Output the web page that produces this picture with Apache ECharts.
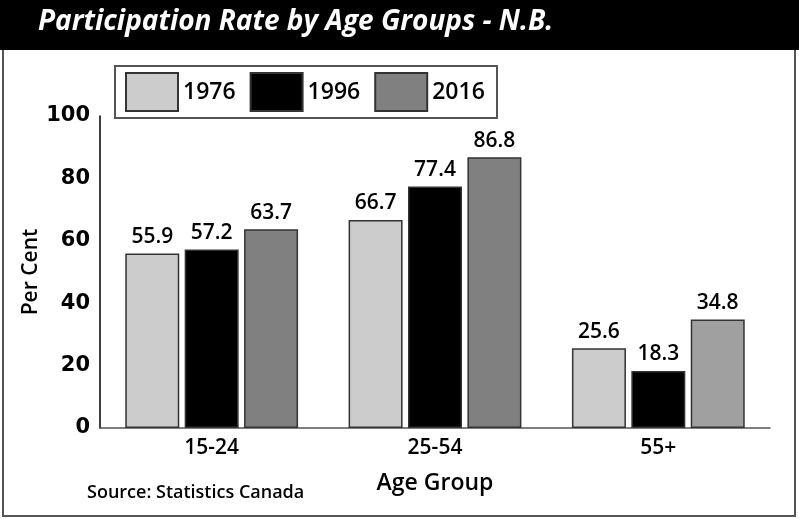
<!DOCTYPE html>
<html>
<head>
<meta charset="utf-8">
<script src="https://cdn.jsdelivr.net/npm/echarts@6/dist/echarts.min.js"></script>
<style>
  html, body { margin: 0; padding: 0; background: #fff; }
  #chart { width: 799px; height: 519px; }
</style>
</head>
<body>
<div id="chart"></div>
<script>
// data
var categories = ['15-24', '25-54', '55+'];
var years = ['1976', '1996', '2016'];
var values1976 = [55.9, 66.7, 25.6];
var values1996 = [57.2, 77.4, 18.3];
var values2016 = [63.7, 86.8, 34.8];
var yTicks = [0, 20, 40, 60, 80, 100];

var colors = ['#cccccc', '#000000', '#808080'];
var font = 'Open Sans';

var chart = echarts.init(document.getElementById('chart'));

function makeSeries(name, data, color) {
  return {
    name: name,
    type: 'bar',
    barWidth: 54,
    barGap: '10%',
    data: data.map(function (v, i) {
      // last 2016 bar is lighter in the original
      if (name === '2016' && i === 2) {
        return { value: v, itemStyle: { color: '#a0a0a0' } };
      }
      return v;
    }),
    itemStyle: { color: color, borderColor: '#333', borderWidth: 1.5 },
    label: {
      show: true,
      position: 'top',
      distance: 6,
      fontFamily: font,
      fontSize: 21,
      fontWeight: 600,
      color: '#000',
      formatter: function (p) { return p.value.toFixed(1); }
    }
  };
}

chart.setOption({
  animation: false,
  graphic: [
    { type: 'rect', shape: { x: 3, y: 1, width: 792, height: 515 },
      style: { fill: 'none', stroke: '#555', lineWidth: 2 }, z: 0 },
    { type: 'rect', shape: { x: 0, y: 0, width: 799, height: 50 },
      style: { fill: '#000' }, z: 1 },
    { type: 'text', left: 38, top: 8, z: 2,
      style: { text: 'Participation Rate by Age Groups - N.B.', fill: '#fff',
        font: 'italic bold 28px "Open Sans"' } },
    { type: 'rect', shape: { x: 115, y: 66, width: 382, height: 52 },
      style: { fill: 'none', stroke: '#555', lineWidth: 2 }, z: 2 },
    { type: 'text', left: 87, top: 484, z: 2,
      style: { text: 'Source: Statistics Canada', fill: '#000',
        font: '600 18px "Open Sans"' } }
  ],
  legend: {
    data: years,
    left: 125,
    top: 72,
    padding: 0,
    itemWidth: 52,
    itemHeight: 38,
    itemGap: 14,
    icon: 'rect',
    textStyle: { fontFamily: font, fontSize: 23, fontWeight: 600, color: '#000' }
  },
  grid: { left: 100, right: 29, top: 116, bottom: 91, containLabel: false },
  xAxis: {
    type: 'category',
    data: categories,
    name: 'Age Group',
    nameLocation: 'middle',
    nameGap: 44,
    nameTextStyle: { fontFamily: font, fontSize: 23, fontWeight: 600, color: '#000' },
    axisLine: { lineStyle: { color: '#555', width: 1.5 } },
    axisTick: { show: false },
    axisLabel: { fontFamily: font, fontSize: 21, fontWeight: 600, color: '#000', margin: 10 }
  },
  yAxis: {
    type: 'value',
    min: 0,
    max: 100,
    interval: 20,
    name: 'Per Cent',
    nameLocation: 'middle',
    nameGap: 58,
    nameMoveOverlap: false,
    nameTextStyle: { fontFamily: font, fontSize: 21, fontWeight: 600, color: '#000' },
    axisLine: { show: true, lineStyle: { color: '#000', width: 1.5 } },
    axisTick: { show: false },
    splitLine: { show: false },
    axisLabel: {
      fontFamily: 'DejaVu Sans', fontSize: 21, fontWeight: 'bold', color: '#000', margin: 10,
      formatter: function (v) { return yTicks.indexOf(v) >= 0 ? String(v) : ''; }
    }
  },
  series: [
    makeSeries(years[0], values1976, colors[0]),
    makeSeries(years[1], values1996, colors[1]),
    makeSeries(years[2], values2016, colors[2])
  ]
});
</script>
</body>
</html>
